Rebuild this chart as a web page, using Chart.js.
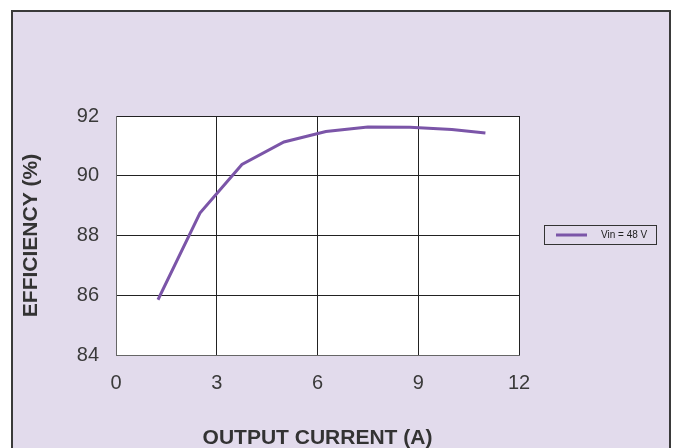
<!DOCTYPE html>
<html>
<head>
<meta charset="utf-8">
<script src="https://cdn.jsdelivr.net/npm/chart.js@4/dist/chart.umd.min.js"></script>
<style>
  html, body { margin: 0; padding: 0; background: #ffffff; }
  #wrap { width: 673px; height: 448px; }
</style>
</head>
<body>
<div id="wrap"><canvas id="effChart" width="673" height="448"></canvas></div>
<script>
const current = [1.25, 2.5, 3.75, 5, 6.25, 7.5, 8.75, 10, 11];
const efficiency = [85.85, 88.75, 90.38, 91.13, 91.48, 91.63, 91.62, 91.55, 91.43];
const xTicks = [0, 3, 6, 9, 12];
const yTicks = [84, 86, 88, 90, 92];
const seriesLabel = "Vin = 48 V";

const purple = "#7b55a8";
const lavender = "#e2dbec";

const panel = {
    id: "panel",
    beforeDraw(chart) {
        const ctx = chart.ctx;
        const a = chart.chartArea;
        ctx.save();
        ctx.fillStyle = lavender;
        ctx.fillRect(12, 11, 658, 450);
        ctx.strokeStyle = "#3a3a3a";
        ctx.lineWidth = 2;
        ctx.strokeRect(12, 11, 658, 450);
        ctx.fillStyle = "#ffffff";
        ctx.fillRect(a.left, a.top, a.right - a.left, a.bottom - a.top);
        ctx.restore();
    },
    afterDraw(chart) {
        const ctx = chart.ctx;
        const ds = chart.data.datasets[0];
        ctx.save();
        ctx.fillStyle = lavender;
        ctx.fillRect(544.5, 225.5, 112, 19);
        ctx.strokeStyle = "#333";
        ctx.lineWidth = 1;
        ctx.strokeRect(544.5, 225.5, 112, 19);
        ctx.strokeStyle = ds.borderColor;
        ctx.lineWidth = 3;
        ctx.beginPath();
        ctx.moveTo(556, 235);
        ctx.lineTo(587, 235);
        ctx.stroke();
        ctx.fillStyle = "#222";
        ctx.font = "10px 'Liberation Sans', Arial, sans-serif";
        ctx.textBaseline = "middle";
        ctx.fillText(ds.label, 601, 235.5);
        ctx.restore();
    }
};

const ctx = document.getElementById("effChart").getContext("2d");

const chart = new Chart(ctx, {
    type: "line",
    data: {
        datasets: [
            {
                label: seriesLabel,
                data: current.map((c, i) => ({ x: c, y: efficiency[i] })),
                borderColor: purple,
                borderWidth: 3,
                pointRadius: 0,
                tension: 0,
                fill: false,
            },
        ],
    },
    options: {
        responsive: false,
        animation: false,
        events: [],
        layout: {
            padding: { left: 12, right: 154, top: 116, bottom: 0 },
        },
        plugins: {
            legend: { display: false },
            tooltip: { enabled: false },
        },
        scales: {
            x: {
                type: "linear",
                min: xTicks[0],
                max: xTicks[xTicks.length - 1],
                afterBuildTicks: (scale) => {
                    scale.ticks = xTicks.map((v) => ({ value: v }));
                },
                afterFit: (scale) => {
                    scale.height = 93;
                },
                grid: {
                    color: "#222",
                    lineWidth: 1,
                    drawTicks: false,
                },
                border: { color: "#666", width: 1 },
                ticks: {
                    padding: 16,
                    color: "#3a3a3a",
                    font: { family: "'Liberation Sans', Arial, sans-serif", size: 20 },
                },
                title: {
                    display: true,
                    text: "OUTPUT CURRENT (A)",
                    color: "#333",
                    padding: 0,
                    font: { family: "'Liberation Sans', Arial, sans-serif", size: 21, weight: "bold", lineHeight: 0.9 },
                },
            },
            y: {
                min: yTicks[0],
                max: yTicks[yTicks.length - 1],
                afterBuildTicks: (scale) => {
                    scale.ticks = yTicks.map((v) => ({ value: v }));
                },
                afterFit: (scale) => {
                    scale.width = 104;
                },
                grid: {
                    color: "#222",
                    lineWidth: 1,
                    drawTicks: false,
                },
                border: { color: "#666", width: 1 },
                ticks: {
                    padding: 17,
                    color: "#3a3a3a",
                    font: { family: "'Liberation Sans', Arial, sans-serif", size: 20 },
                },
                title: {
                    display: true,
                    text: "EFFICIENCY (%)",
                    color: "#333",
                    padding: { top: 7, bottom: 0 },
                    font: { family: "'Liberation Sans', Arial, sans-serif", size: 21, weight: "bold" },
                },
            },
        },
    },
    plugins: [panel],
});
</script>
</body>
</html>
